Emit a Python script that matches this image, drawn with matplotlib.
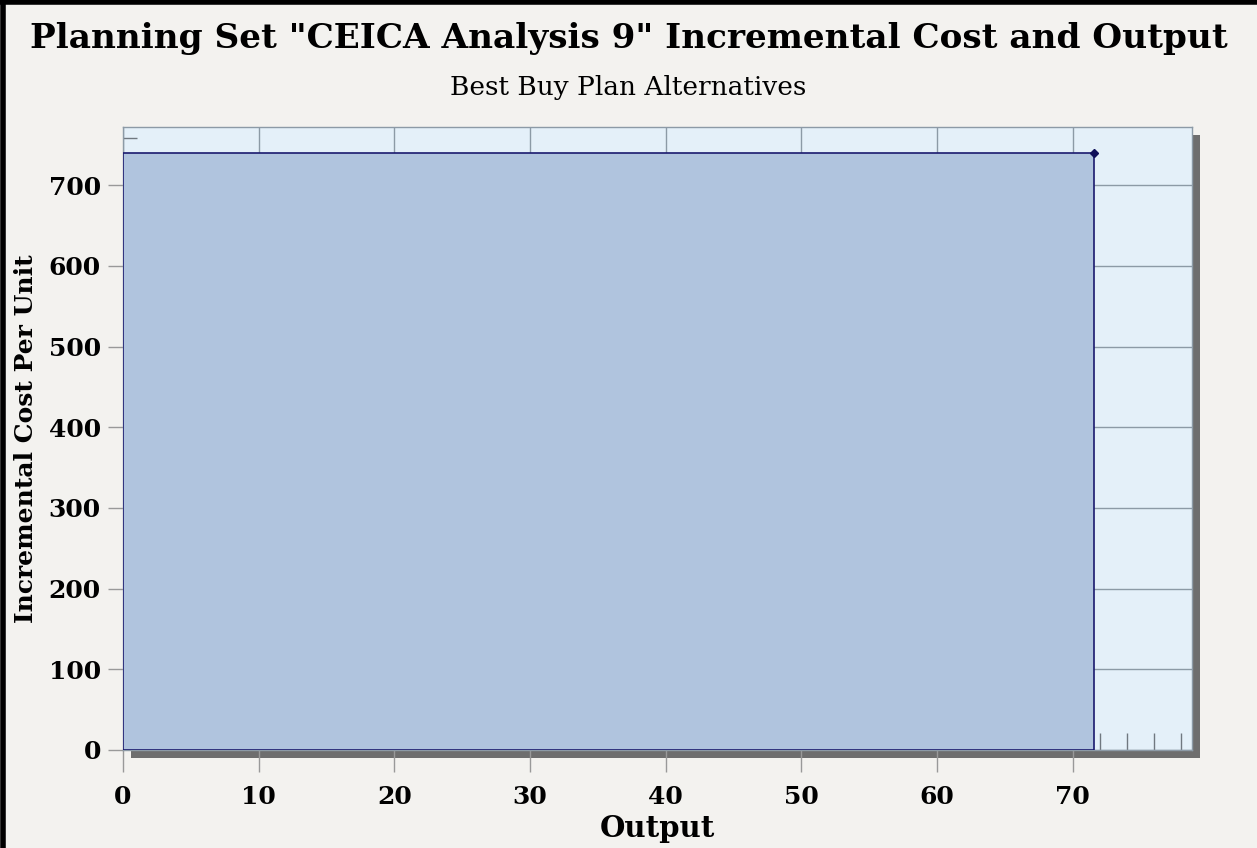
import matplotlib.pyplot as plt
from matplotlib.patches import Rectangle

# best buy plan: cumulative output and incremental cost per unit
outputs = [0, 71.6]
cost_per_unit = [740]

x_ticks = [0, 10, 20, 30, 40, 50, 60, 70]
y_ticks = [0, 100, 200, 300, 400, 500, 600, 700]

serif = ['DejaVu Serif']
bg = '#f3f2ef'

fig = plt.figure(figsize=(12.57, 8.48), dpi=100, facecolor=bg)
ax = fig.add_axes([0.0979, 0.1156, 0.8504, 0.7346])
ax.set_facecolor('#e4f0f9')
ax.set_zorder(2)

# drop shadow behind the plot area
fig.patches.append(Rectangle((0.0979 + 8 / 1257, 0.1156 - 8 / 848), 0.8504, 0.7346,
                             transform=fig.transFigure, facecolor='#6e6e6e',
                             edgecolor='none', zorder=1))

ax.bar(outputs[0], cost_per_unit[0], width=outputs[1] - outputs[0], align='edge',
       color='#b0c4de', edgecolor='#1a1a6e', linewidth=1.2, zorder=3)
ax.plot(outputs[1], cost_per_unit[0], marker='D', markersize=4, color='#10105a',
        zorder=4, clip_on=False)

ax.set_xlim(0, 78.8)
ax.set_ylim(0, 772)
ax.set_xticks(x_ticks)
ax.set_yticks(y_ticks)
ax.set_xticks([72, 74, 76, 78], minor=True)
ax.set_yticks([758], minor=True)
ax.grid(True, color='#8c9aa6', linewidth=1.0, zorder=1)

ax.tick_params(axis='x', which='major', direction='out', length=16, width=1,
               color='#999999', pad=9)
ax.tick_params(axis='y', which='major', direction='out', length=11, width=1,
               color='#999999', pad=5)
ax.tick_params(axis='x', which='minor', direction='in', length=12, width=1,
               color='#707880')
ax.tick_params(axis='y', which='minor', direction='in', length=10, width=1,
               color='#707880')
for lab in ax.get_xticklabels() + ax.get_yticklabels():
    lab.set_fontfamily(serif)
    lab.set_fontweight('bold')
    lab.set_fontsize(18)

for s in ax.spines.values():
    s.set_color('#8c9aa6')
    s.set_linewidth(1)

ax.set_xlabel('Output', family=serif, fontweight='bold', fontsize=21, labelpad=4)
ax.set_ylabel('Incremental Cost Per Unit', family=serif, fontweight='bold',
              fontsize=18, labelpad=8)

fig.text(0.5, 0.955, 'Planning Set "CEICA Analysis 9" Incremental Cost and Output',
         ha='center', va='center', family=serif, fontweight='bold', fontsize=24.7)
fig.text(0.5, 0.897, 'Best Buy Plan Alternatives', ha='center', va='center',
         family=serif, fontsize=19)

# black frame on the left and top edges
fig.add_artist(plt.Line2D([0.002, 0.002], [0, 1], color='black', linewidth=4,
                          transform=fig.transFigure))
fig.add_artist(plt.Line2D([0, 1], [0.998, 0.998], color='black', linewidth=4,
                          transform=fig.transFigure))

fig.savefig('out.png', dpi=100, facecolor=bg)
